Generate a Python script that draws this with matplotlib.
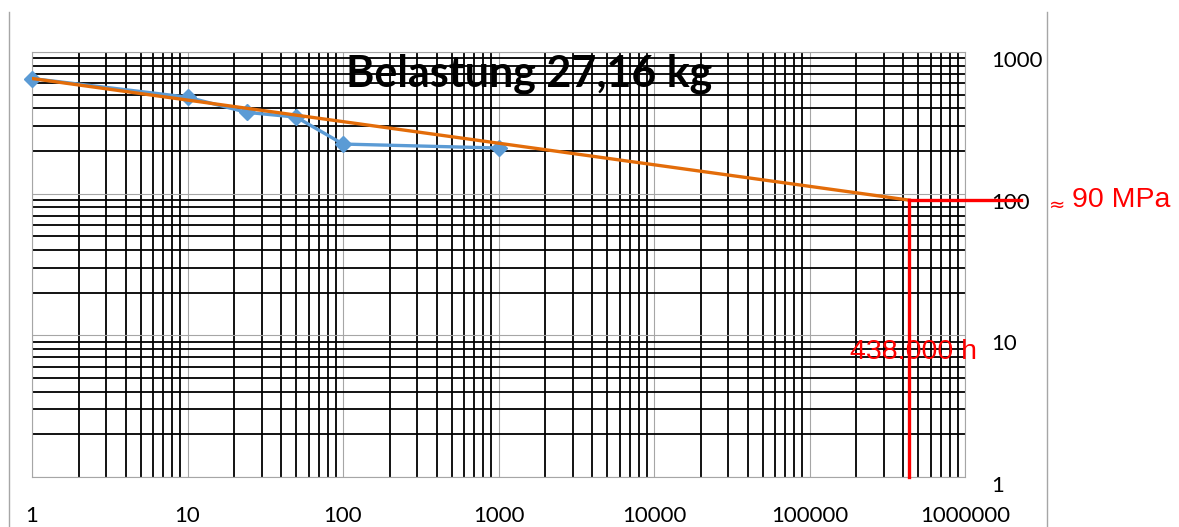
import matplotlib
matplotlib.use('Agg')
import matplotlib.pyplot as plt
from matplotlib.lines import Line2D
from matplotlib.ticker import FixedLocator, LogLocator, FuncFormatter, NullFormatter
from matplotlib.transforms import ScaledTranslation

# Messwerte (Standzeit in h, Spannung in MPa)
hours = [1, 10, 24, 50, 100, 1000]
stress = [650, 480, 375, 347, 224, 210]

# Trendlinie (Potenz) bis zur Extrapolation
trend_hours = [1, 438000]
trend_stress = [650, 90]

life_hours = 438000
life_stress = 90

x_ticks = [1, 10, 100, 1000, 10000, 100000, 1000000]
y_ticks = [1, 10, 100, 1000]

W, H = 1179, 527
fig = plt.figure(figsize=(W / 100, H / 100), dpi=100)
ax = fig.add_axes([32 / W, 1 - 477 / H, (965 - 32) / W, (477 - 52) / H])

ax.set_xscale('log')
ax.set_yscale('log')
ax.set_xlim(1, 1e6)
ax.set_ylim(1, 1000)

ax.xaxis.set_major_locator(FixedLocator(x_ticks))
ax.yaxis.set_major_locator(FixedLocator(y_ticks))
ax.xaxis.set_minor_locator(LogLocator(base=10, subs=range(2, 10), numticks=20))
ax.yaxis.set_minor_locator(LogLocator(base=10, subs=range(2, 10), numticks=20))
ax.xaxis.set_minor_formatter(NullFormatter())
ax.yaxis.set_minor_formatter(NullFormatter())
fmt = FuncFormatter(lambda v, p: '%d' % v)
ax.xaxis.set_major_formatter(fmt)
ax.yaxis.set_major_formatter(fmt)

ax.grid(which='major', color='#a6a6a6', lw=0.8)
ax.grid(which='minor', color='black', lw=1.3)
ax.set_axisbelow(True)
for s in ax.spines.values():
    s.set_color('#a6a6a6')
    s.set_linewidth(0.8)

ax.yaxis.tick_right()
ax.tick_params(which='both', length=0)
ax.tick_params(axis='x', pad=21, labelsize=16)
ax.tick_params(axis='y', pad=19, labelsize=16)
for lbl in ax.get_xticklabels() + ax.get_yticklabels():
    lbl.set_fontfamily('Lato')
for lbl in ax.get_yticklabels():
    lbl.set_horizontalalignment('left')
    lbl.set_transform(lbl.get_transform() + ScaledTranslation(0, -0.07, fig.dpi_scale_trans))

ax.plot(hours, stress, color='#5b9bd5', lw=2.4, marker='D', ms=8,
        clip_on=False, zorder=3)
ax.plot(trend_hours, trend_stress, color='#e36c09', lw=2.4, zorder=4)

# Ablesung der Zeitstandfestigkeit
ax.plot([life_hours, life_hours], [1, life_stress], color='red', lw=2.4,
        clip_on=False, zorder=5)
ax.plot([life_hours, 2.3e6], [life_stress, life_stress], color='red', lw=2.4,
        clip_on=False, zorder=5)
ax.text(0.877, 0.294, '438.000 h', transform=ax.transAxes, color='red',
        fontsize=20.5, family='Liberation Sans', ha='left', va='center', zorder=6)
fig.text(1049 / W, 1 - 205 / H, '≈', color='red', fontsize=14,
         family='DejaVu Sans', ha='left', va='center')
fig.text(1072 / W, 1 - 200 / H, '90 MPa', color='red', fontsize=20.5,
         family='Liberation Sans', ha='left', va='center')

fig.text(529 / W, 1 - 86 / H, 'Belastung 27,16 kg', fontsize=31,
         family='Lato', weight='bold', ha='center', va='baseline', zorder=7)

# seitliche Trennlinien
for xp in (9, 1047):
    fig.add_artist(Line2D([xp / W, xp / W], [0, 1 - 12 / H], color='#a6a6a6', lw=1))

fig.savefig('out.png', dpi=100)
